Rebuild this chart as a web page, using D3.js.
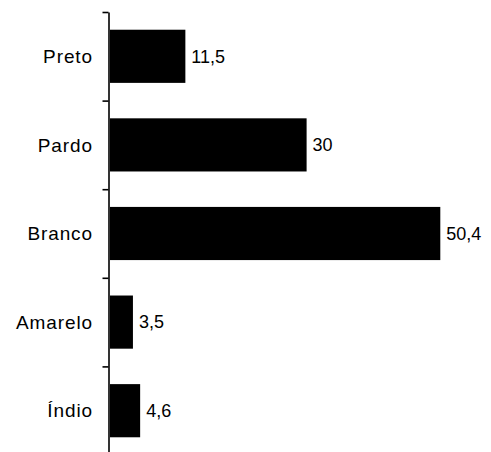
<!DOCTYPE html>
<html>
<head>
<meta charset="utf-8">
<script src="https://cdn.jsdelivr.net/npm/d3@7"></script>
<style>
  html, body { margin: 0; padding: 0; background: #fff; }
  svg { display: block; }
  text { font-family: Arial, "Liberation Sans", sans-serif; font-size: 18px; fill: #000; }
  .cat { font-size: 19px; letter-spacing: 0.9px; }
</style>
</head>
<body>
<svg id="chart" width="491" height="452"></svg>
<script>
const categories = ["Preto", "Pardo", "Branco", "Amarelo", "Índio"];
const values = [11.5, 30, 50.4, 3.5, 4.6];

const svg = d3.select("#chart");
const plotTop = 12, plotBottom = 455;
const x0 = 110;

const x = d3.scaleLinear().domain([0, 50.4]).range([x0, 440.3]);
const y = d3.scaleBand().domain(categories).range([plotTop, plotBottom])
  .paddingInner(0.4).paddingOuter(0.2);

const boundary = d3.scaleLinear().domain([0, categories.length]).range([plotTop, plotBottom]);

const locale = d3.formatLocale({decimal: ",", thousands: ".", grouping: [3], currency: ["", ""]});
const fmt = locale.format("~g");

const rows = categories.map((c, i) => ({c, v: values[i]}));

// bars
svg.append("g").selectAll("rect")
  .data(rows)
  .join("rect")
  .attr("x", x(0))
  .attr("y", d => y(d.c))
  .attr("width", d => x(d.v) - x(0))
  .attr("height", y.bandwidth())
  .attr("fill", "#000");

// value labels
svg.append("g").selectAll("text")
  .data(rows)
  .join("text")
  .attr("x", d => x(d.v) + 6)
  .attr("y", d => y(d.c) + y.bandwidth() / 2)
  .attr("dy", "0.35em")
  .text(d => fmt(d.v));

// axis with ticks at category boundaries
const axis = d3.axisLeft(boundary)
  .tickValues(d3.range(0, categories.length + 1))
  .tickFormat("")
  .tickSize(6)
  .tickSizeOuter(0);

const ag = svg.append("g").attr("transform", "translate(108.5,0)").call(axis);
ag.select(".domain").attr("stroke", "#000").attr("stroke-width", 1.6);
ag.selectAll(".tick line").attr("stroke", "#000").attr("stroke-width", 1.6);

// category labels
svg.append("g").selectAll("text")
  .data(categories)
  .join("text")
  .attr("class", "cat")
  .attr("x", 93)
  .attr("y", d => y(d) + y.bandwidth() / 2)
  .attr("dy", "0.35em")
  .attr("text-anchor", "end")
  .text(d => d);
</script>
</body>
</html>
